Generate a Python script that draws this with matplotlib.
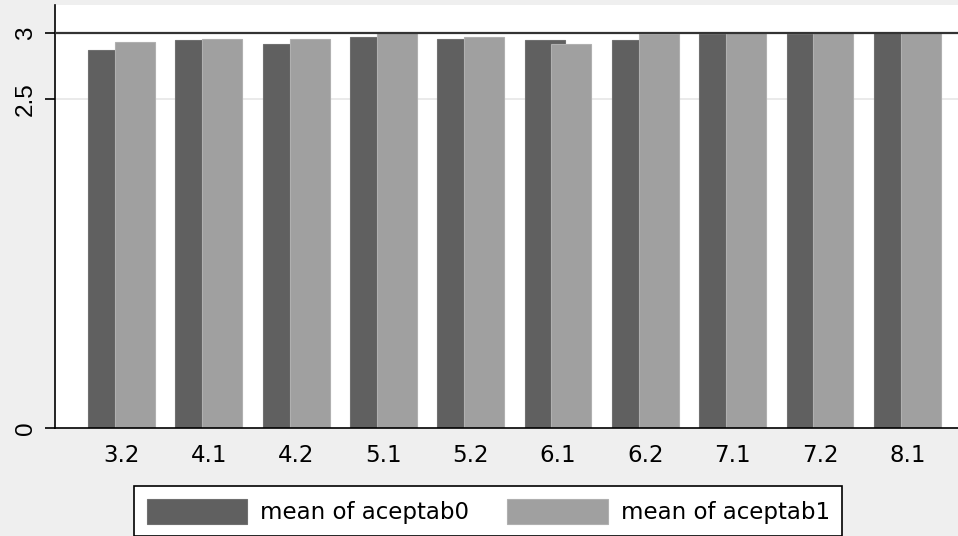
import matplotlib
matplotlib.use("Agg")
import matplotlib.pyplot as plt
import numpy as np

# data
groups = ["3.2", "4.1", "4.2", "5.1", "5.2", "6.1", "6.2", "7.1", "7.2", "8.1"]
aceptab0 = [2.873, 2.947, 2.919, 2.974, 2.959, 2.947, 2.947, 2.992, 2.992, 3.0]
aceptab1 = [2.932, 2.959, 2.959, 3.0, 2.974, 2.916, 2.990, 3.0, 3.0, 3.0]
ytick_vals = [0, 2.5, 3]
ytick_labels = ["0", "2.5", "3"]

DARK = "#606060"
LIGHT = "#a0a0a0"
BG = "#efefef"

W, H = 958, 536
fig = plt.figure(figsize=(W / 100, H / 100), dpi=100, facecolor=BG)
ax = fig.add_axes([55 / W, (H - 428) / H, (W - 55) / W, (428 - 5) / H])
ax.set_facecolor("white")

x = np.arange(len(groups), dtype=float)
bw = 0.458
off = 0.153
ax.bar(x - off, aceptab0, width=bw, color=DARK, edgecolor="#707070",
       linewidth=0.8, label="mean of aceptab0", zorder=2)
ax.bar(x + off, aceptab1, width=bw, color=LIGHT, edgecolor="#b0b0b0",
       linewidth=0.8, label="mean of aceptab1", zorder=2)

ax.axhline(2.5, color="#e6e6e6", linewidth=1.2, zorder=1)
ax.axhline(3.0, color="#333333", linewidth=1.6, zorder=3)

ax.set_xlim(-0.762, 9.58)
ax.set_ylim(0, 3.214)

for s in ("top", "right"):
    ax.spines[s].set_visible(False)
ax.spines["left"].set_linewidth(1.2)
ax.spines["bottom"].set_linewidth(1.2)
ax.spines["bottom"].set_zorder(4)

ax.set_yticks(ytick_vals)
ax.set_yticklabels(ytick_labels, rotation=90, va="center",
                   family="Liberation Sans", fontsize=17.5)
ax.tick_params(axis="y", length=7.2, width=1.2, pad=6)

ax.set_xticks(x)
ax.set_xticklabels(groups, family="DejaVu Sans", fontsize=16.5)
ax.tick_params(axis="x", length=0, pad=11.5)

leg = fig.legend(loc="upper left", bbox_to_anchor=(134 / W, 1 - 486 / H),
                 borderaxespad=0, ncol=2, frameon=True, fancybox=False,
                 handlelength=4.4, handleheight=1.3, handletextpad=0.57,
                 columnspacing=1.63, borderpad=0.55,
                 prop={"family": "DejaVu Sans", "size": 16.5})
leg.get_frame().set_edgecolor("black")
leg.get_frame().set_linewidth(1.2)
leg.get_frame().set_facecolor("white")
leg.get_frame().set_alpha(1)

fig.savefig("out.png", dpi=100, facecolor=BG)
